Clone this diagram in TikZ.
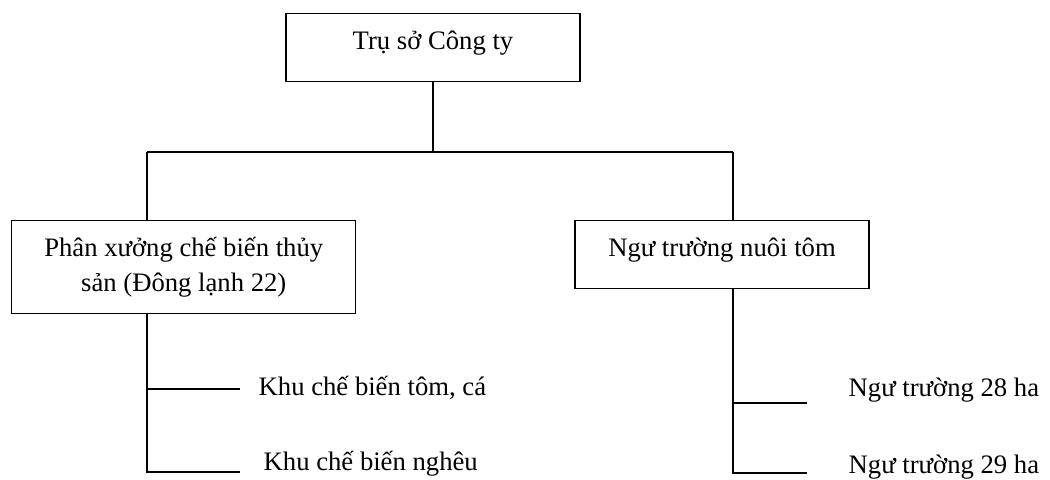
\documentclass[tikz,border=0pt]{standalone}
\usepackage{fontspec}
\setmainfont{Liberation Serif}
\usepackage{tikz}
\usetikzlibrary{calc}

\begin{document}
\begin{tikzpicture}[x=0.75pt, y=-0.75pt, line width=1.1pt,
    every node/.style={font=\fontsize{20}{26}\selectfont},
    onebox/.style={draw, inner sep=0pt, minimum width=220.5pt,
        text height=27pt, text depth=24pt, anchor=north},
    twobox/.style={draw, inner sep=0pt, minimum width=258pt,
        minimum height=69.75pt, align=center, anchor=north west},
    leaf/.style={anchor=base west, inner sep=0pt}]

\useasboundingbox (0,0) rectangle (1050,479);

% --- TOP: HEAD OFFICE ---
\node[onebox] (hq) at (433, 13) {Trụ sở Công ty};

% --- BUS ---
\coordinate (lbus) at (147, 152);
\coordinate (rbus) at (733, 152);
\draw (hq.south) -- (hq.south |- lbus);
\draw (lbus) -- (rbus);

% --- SECOND ROW: UNITS ---
\node[twobox] (plant) at (11, 220) {Phân xưởng chế biến thủy\\sản (Đông lạnh 22)};
\node[onebox] (farm) at (722, 220) {Ngư trường nuôi tôm};
\draw (lbus) -- (lbus |- plant.north);
\draw (rbus) -- (rbus |- farm.north);

% --- LEAVES UNDER THE PLANT ---
\coordinate (k1end) at (240, 389);
\coordinate (k2end) at (240, 472);
\node[leaf] (k1) at (258, 395) {Khu chế biến tôm, cá};
\node[leaf] (k2) at (263, 470) {Khu chế biến nghêu};
\draw (lbus |- plant.south) -- (lbus |- k2end) -- (k2end);
\draw (lbus |- k1end) -- (k1end);

% --- LEAVES UNDER THE FARM ---
\coordinate (n1end) at (807, 403);
\coordinate (n2end) at (807, 473);
\node[leaf] (n1) at (848, 396) {Ngư trường 28 ha};
\node[leaf] (n2) at (848, 473) {Ngư trường 29 ha};
\draw (rbus |- farm.south) -- (rbus |- n2end) -- (n2end);
\draw (rbus |- n1end) -- (n1end);

\end{tikzpicture}
\end{document}
